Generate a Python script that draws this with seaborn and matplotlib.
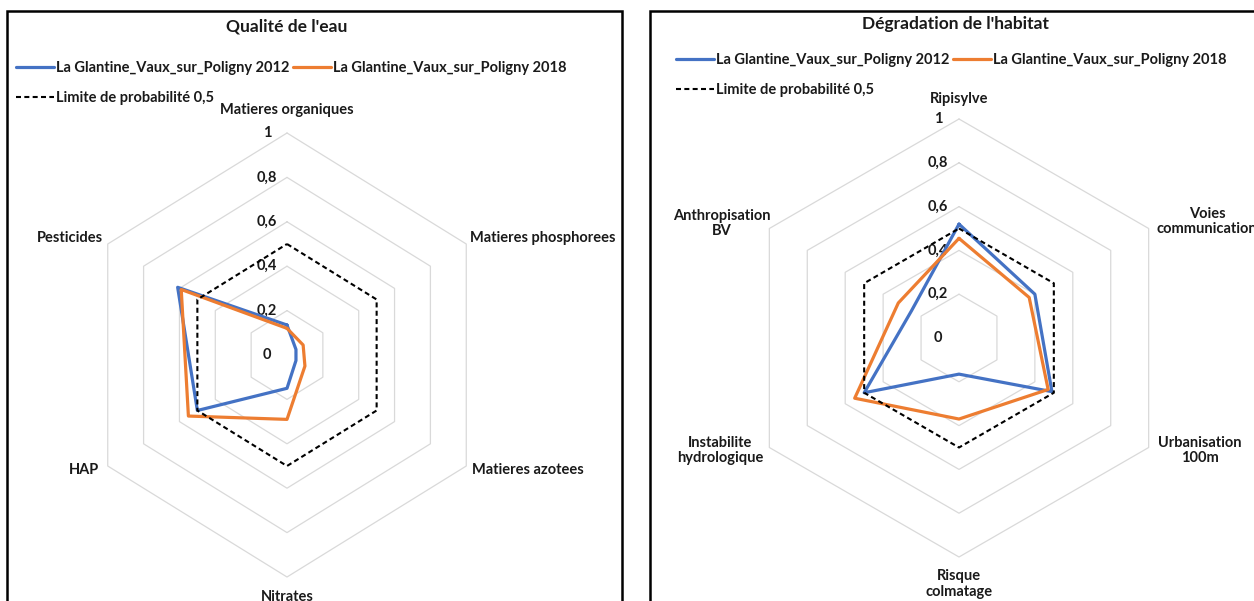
import numpy as np
import pandas as pd
import matplotlib
matplotlib.use("Agg")
import matplotlib.pyplot as plt
import seaborn as sns
from matplotlib import font_manager
from matplotlib.patches import Rectangle

# ---------------- data ----------------
eau_categories = ["Matieres organiques", "Matieres phosphorees", "Matieres azotees",
                  "Nitrates", "HAP", "Pesticides"]
eau_2012 = [0.135, 0.05, 0.05, 0.15, 0.50, 0.61]
eau_2018 = [0.12, 0.09, 0.10, 0.29, 0.55, 0.59]

habitat_categories = ["Ripisylve", "Voies\ncommunication", "Urbanisation\n100m",
                      "Risque\ncolmatage", "Instabilite\nhydrologique", "Anthropisation\nBV"]
habitat_2012 = [0.52, 0.40, 0.49, 0.165, 0.50, 0.25]
habitat_2018 = [0.455, 0.37, 0.47, 0.37, 0.55, 0.32]

limite = [0.5, 0.5, 0.5, 0.5, 0.5, 0.5]

tick_values = [0, 0.2, 0.4, 0.6, 0.8, 1.0]
tick_labels = ["0", "0,2", "0,4", "0,6", "0,8", "1"]
series_names = ["La Glantine_Vaux_sur_Poligny 2012",
                "La Glantine_Vaux_sur_Poligny 2018",
                "Limite de probabilité 0,5"]
titles = ["Qualité de l'eau", "Dégradation de l'habitat"]

# ---------------- style ----------------
sns.set_theme(style="white")
available = {f.name for f in font_manager.fontManager.ttflist}
fam = [f for f in ["Liberation Sans Narrow", "Lato", "Liberation Sans", "DejaVu Sans"] if f in available]
plt.rcParams["font.family"] = fam

BLUE = "#4472C4"
ORANGE = "#ED7D31"
GRID = "#d9d9d9"
TXT = "#1a1a1a"
FS = 10.5
FS_TITLE = 12.5

W, H = 1254, 601
fig = plt.figure(figsize=(W / 100, H / 100), dpi=100)
fig.patch.set_facecolor("white")


def px_rect(x0, y0, x1, y1):
    return [x0 / W, 1 - y1 / H, (x1 - x0) / W, (y1 - y0) / H]


# panel borders
for (x0, x1) in [(7, 622), (650, 1265)]:
    fig.add_artist(Rectangle((x0 / W, -0.05), (x1 - x0) / W, 1.05 - 11 / H,
                             transform=fig.transFigure, fill=False,
                             edgecolor="black", lw=1.8, zorder=0))

n = 6
theta = np.linspace(0, 2 * np.pi, n, endpoint=False)
theta_closed = np.append(theta, theta[0])


def radar(rect, cats, v2012, v2018, title, title_xy, leg_xy, label_offsets,
          tick_dx, equal=True):
    ax = fig.add_axes(rect, projection="polar")
    ax.set_theta_zero_location("N")
    ax.set_theta_direction(-1)
    ax.set_ylim(0, 1)
    if not equal:
        ax.set_aspect("auto")
    ax.grid(False)
    ax.set_xticks([])
    ax.set_yticks([])
    ax.spines["polar"].set_visible(False)
    ax.patch.set_visible(False)

    # hexagonal gridlines
    for v in tick_values[1:]:
        ax.plot(theta_closed, [v] * (n + 1), color=GRID, lw=0.9, zorder=1, clip_on=False)

    # value labels
    for v, lab in zip(tick_values, tick_labels):
        ax.annotate(lab, xy=(0, v), xytext=(tick_dx, 0), textcoords="offset pixels",
                    ha="center", va="center", fontsize=FS, fontweight="bold",
                    color=TXT, zorder=1.5, annotation_clip=False)

    # series
    handles = []
    for vals, name, color, extra in [
        (v2012, series_names[0], BLUE, dict(lw=2.3)),
        (v2018, series_names[1], ORANGE, dict(lw=2.3)),
        (limite, series_names[2], "black", dict(lw=1.5, dashes=(2.4, 1.6))),
    ]:
        df = pd.DataFrame({"angle": theta_closed, "valeur": list(vals) + [vals[0]]})
        before = len(ax.lines)
        sns.lineplot(data=df, x="angle", y="valeur", sort=False, estimator=None,
                     errorbar=None, color=color, ax=ax, label=name, zorder=3,
                     clip_on=False, **extra)
        handles.append(ax.lines[before])
    ax.set_xlabel("")
    ax.set_ylabel("")

    # category labels
    for t, cat, (dx, dy, ha) in zip(theta, cats, label_offsets):
        ax.annotate(cat, xy=(t, 1.0), xytext=(dx, dy), textcoords="offset pixels",
                    ha=ha, va="center", multialignment="center", fontsize=FS,
                    fontweight="bold", color=TXT, annotation_clip=False,
                    linespacing=1.15)

    # legend: row 1 = 2012, 2018 ; row 2 = limite
    leg = ax.legend([handles[0], handles[2], handles[1]],
                    [series_names[0], series_names[2], series_names[1]],
                    ncol=2, loc="upper left",
                    bbox_to_anchor=(leg_xy[0] / W, 1 - leg_xy[1] / H),
                    bbox_transform=fig.transFigure, frameon=False,
                    fontsize=FS, handlelength=2.6, handletextpad=0.15,
                    columnspacing=0.25, labelspacing=1.1, borderpad=0,
                    borderaxespad=0)
    for txt in leg.get_texts():
        txt.set_fontweight("bold")
        txt.set_color(TXT)

    fig.text(title_xy[0] / W, 1 - title_xy[1] / H, title, ha="center", va="center",
             fontsize=FS_TITLE, fontweight="bold", color=TXT)
    return ax


# left: Qualité de l'eau (center 287,355 ; rx 207, ry 222)
radar(px_rect(287 - 207, 355 - 222, 287 + 207, 355 + 222),
      eau_categories, eau_2012, eau_2018, titles[0], (287, 27), (16, 61),
      [(0, 23, "center"), (4, 6, "left"), (6, -4, "left"),
       (0, -20, "center"), (-9, -4, "right"), (-5, 6, "right")],
      tick_dx=-20, equal=False)

# right: Dégradation de l'habitat (center 959,338 ; r 219)
radar(px_rect(959 - 219, 338 - 219, 959 + 219, 338 + 219),
      habitat_categories, habitat_2012, habitat_2018, titles[1], (955, 24), (676, 53),
      [(0, 20, "center"), (8, 7, "left"), (9, -3, "left"),
       (0, -27, "center"), (-6, -3, "right"), (1, 5, "right")],
      tick_dx=-21, equal=True)

fig.savefig("out.png", dpi=100, facecolor="white")
